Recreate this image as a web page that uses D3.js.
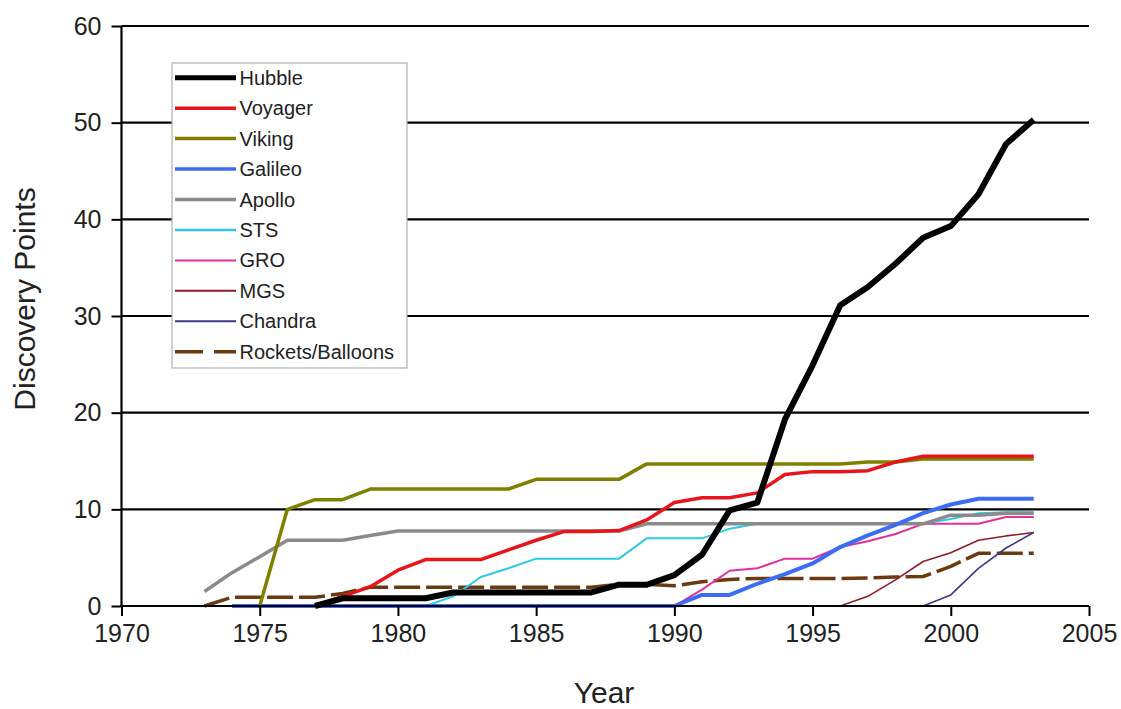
<!DOCTYPE html>
<html>
<head>
<meta charset="utf-8">
<script src="https://cdn.jsdelivr.net/npm/d3@7"></script>
<style>
  html, body { margin: 0; padding: 0; background: #fff; }
  svg { display: block; font-family: "Liberation Sans", Arial, sans-serif; }
</style>
</head>
<body>
<svg id="chart" width="1121" height="709"></svg>
<script>
// ---------- data ----------
const years = d3.range(1973, 2004); // 1973..2003
const xTicks = [1970, 1975, 1980, 1985, 1990, 1995, 2000, 2005];
const yTicks = [0, 10, 20, 30, 40, 50, 60];
const seriesNames = ["Hubble", "Voyager", "Viking", "Galileo", "Apollo", "STS", "GRO", "MGS", "Chandra", "Rockets/Balloons"];
const N = null;
//               1973 1974 1975 1976 1977 1978 1979 1980 1981 1982 1983 1984 1985 1986 1987 1988 1989 1990 1991 1992 1993 1994 1995 1996 1997 1998 1999 2000 2001 2002 2003
const hubble  = [N,   N,   N,   N,   0,   0.8, 0.8, 0.8, 0.8, 1.4, 1.4, 1.4, 1.4, 1.4, 1.4, 2.2, 2.2, 3.2, 5.3, 9.9, 10.7,19.3,24.9,31.1,33.0,35.4,38.1,39.3,42.6,47.8,50.3];
const voyager = [N,   N,   N,   N,   0,   1.0, 2.0, 3.7, 4.8, 4.8, 4.8, 5.8, 6.8, 7.7, 7.7, 7.8, 8.9, 10.7,11.2,11.2,11.7,13.6,13.9,13.9,14.0,14.9,15.5,15.5,15.5,15.5,15.5];
const viking  = [N,   N,   0,   10.0,11.0,11.0,12.1,12.1,12.1,12.1,12.1,12.1,13.1,13.1,13.1,13.1,14.7,14.7,14.7,14.7,14.7,14.7,14.7,14.7,14.9,14.9,15.2,15.2,15.2,15.2,15.2];
const galileo = [N,   0,   0,   0,   0,   0,   0,   0,   0,   0,   0,   0,   0,   0,   0,   0,   0,   0,   1.15,1.15,2.3, 3.3, 4.4, 6.1, 7.3, 8.4, 9.6, 10.5,11.1,11.1,11.1];
const apollo  = [1.5, 3.45,5.1, 6.8, 6.8, 6.8, 7.3, 7.75,7.75,7.75,7.75,7.75,7.75,7.75,7.75,7.75,8.5, 8.5, 8.5, 8.5, 8.5, 8.5, 8.5, 8.5, 8.5, 8.5, 8.5, 9.4, 9.4, 9.6, 9.6];
const sts     = [N,   0,   0,   0,   0,   0,   0,   0,   0,   1.0, 3.0, 3.9, 4.9, 4.9, 4.9, 4.9, 7.0, 7.0, 7.0, 8.0, 8.5, 8.5, 8.5, 8.5, 8.5, 8.5, 8.5, 9.0, 9.6, 9.7, 9.7];
const gro     = [N,   0,   0,   0,   0,   0,   0,   0,   0,   0,   0,   0,   0,   0,   0,   0,   0,   0,   1.7, 3.65,3.9, 4.9, 4.9, 6.1, 6.7, 7.45,8.5, 8.5, 8.5, 9.2, 9.2];
const mgs     = [N,   0,   0,   0,   0,   0,   0,   0,   0,   0,   0,   0,   0,   0,   0,   0,   0,   0,   0,   0,   0,   0,   0,   0,   1.0, 2.7, 4.6, 5.5, 6.8, 7.25,7.6];
const chandra = [N,   0,   0,   0,   0,   0,   0,   0,   0,   0,   0,   0,   0,   0,   0,   0,   0,   0,   0,   0,   0,   0,   0,   0,   0,   0,   0,   1.15,3.9, 6.0, 7.6];
const rockets = [0,   0.9, 0.9, 0.9, 0.9, 1.3, 1.95,1.95,1.95,1.95,1.95,1.95,1.95,1.95,1.95,2.25,2.25,2.1, 2.5, 2.75,2.85,2.85,2.85,2.85,2.9, 3.0, 3.05,4.1, 5.45,5.45,5.45];
const seriesValues = [hubble, voyager, viking, galileo, apollo, sts, gro, mgs, chandra, rockets];

// ---------- styles ----------
const colors = ["#000000", "#e8141c", "#7f8000", "#3a6cf4", "#8a8a8a", "#2ec8e8", "#e0309a", "#8c1c2c", "#3a3a8c", "#6b3a10"];
const widths = [6, 3.5, 3.5, 4, 3.5, 2, 2, 1.6, 1.6, 3.5];
const dashes = [null, null, null, null, null, null, null, null, null, "26,6"];

const svg = d3.select("#chart");
const x = d3.scaleLinear().domain([1970, 2005]).range([121.5, 1089]);
const y = d3.scaleLinear().domain([0, 60]).range([606, 26]);

// gridlines
svg.append("g").selectAll("line").data(yTicks.filter(d => d > 0)).join("line")
  .attr("x1", x(1970)).attr("x2", x(2005))
  .attr("y1", d => y(d)).attr("y2", d => y(d))
  .attr("stroke", "#000").attr("stroke-width", 2.2);

// series (drawn reverse so Hubble is on top)
const line = d3.line()
  .defined(d => d.v !== null)
  .x(d => x(d.year)).y(d => y(d.v));
const order = d3.range(seriesNames.length).reverse();
svg.append("g").selectAll("path").data(order).join("path")
  .attr("d", i => line(years.map((yr, k) => ({year: yr, v: seriesValues[i][k]}))))
  .attr("fill", "none")
  .attr("stroke", i => colors[i])
  .attr("stroke-width", i => widths[i])
  .attr("stroke-dasharray", i => dashes[i])
  .attr("stroke-linejoin", "round");

// axes
const xAxis = svg.append("g").attr("transform", `translate(0,${y(0)})`)
  .call(d3.axisBottom(x).tickValues(xTicks).tickFormat(d3.format("d")).tickSizeOuter(0).tickSize(10).tickPadding(8));
const yAxis = svg.append("g").attr("transform", `translate(${x(1970)},0)`)
  .call(d3.axisLeft(y).tickValues(yTicks).tickSizeOuter(0).tickSize(10).tickPadding(10));
[xAxis, yAxis].forEach(a => {
  a.select(".domain").attr("stroke", "#000").attr("stroke-width", 2.2);
  a.selectAll(".tick line").attr("stroke", "#000").attr("stroke-width", 2);
  a.selectAll(".tick text").attr("font-size", 25).attr("fill", "#222")
    .attr("font-family", "'Liberation Sans', Arial, sans-serif");
});
xAxis.select(".domain").attr("d", `M${x(1970)},0H${x(2005)}`);
yAxis.select(".domain").attr("d", `M0,${y(0)}V${y(60)}`);

// axis titles
svg.append("text").attr("x", 604).attr("y", 703)
  .attr("text-anchor", "middle").attr("font-size", 30).attr("fill", "#222").text("Year");
svg.append("text").attr("transform", "translate(35,299) rotate(-90)")
  .attr("text-anchor", "middle").attr("font-size", 30).attr("fill", "#222").text("Discovery Points");

// legend
const lg = svg.append("g");
lg.append("rect").attr("x", 172).attr("y", 63).attr("width", 235).attr("height", 305)
  .attr("fill", "#fff").attr("stroke", "#b0b0b0").attr("stroke-width", 1.2);
const legendWidths = [5, 3.5, 3.5, 3.5, 3.5, 2.5, 2, 2, 2, 3.5];
const rows = lg.selectAll("g.row").data(seriesNames).join("g").attr("class", "row")
  .attr("transform", (d, i) => `translate(0,${77.7 + i * 30.45})`);
rows.append("line").attr("x1", 175).attr("x2", 236).attr("y1", 0).attr("y2", 0)
  .attr("stroke", (d, i) => colors[i]).attr("stroke-width", (d, i) => legendWidths[i])
  .attr("stroke-dasharray", (d, i) => i === 9 ? "28,11" : null);
rows.append("text").attr("x", 239.5).attr("y", 7).attr("font-size", 20).attr("fill", "#222")
  .text(d => d);
</script>
</body>
</html>
